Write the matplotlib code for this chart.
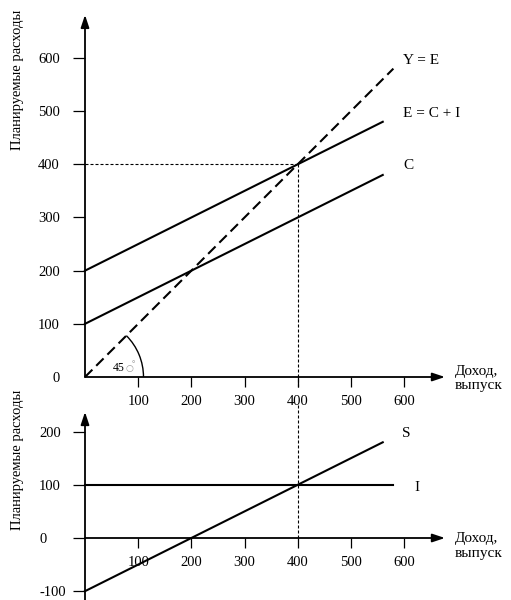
import matplotlib
matplotlib.use("Agg")
import matplotlib.pyplot as plt
from matplotlib.patches import Arc

plt.rcParams["font.family"] = ["Liberation Serif", "DejaVu Sans"]

# ---------------- data ----------------
income = [0, 560]                 # Y (income, output) range for C, E, S
consumption = [100, 380]          # C = 100 + 0.5Y
expenditure = [200, 480]          # E = C + I = 200 + 0.5Y
ye_x = [0, 580]                   # Y = E (45-degree line)
ye_y = [0, 580]
saving = [-100, 180]              # S = -100 + 0.5Y
invest_x = [0, 580]
investment = [100, 100]           # I = 100
eq_income = 400
eq_expenditure = 400

top_xticks = [100, 200, 300, 400, 500, 600]
top_yticks = [0, 100, 200, 300, 400, 500, 600]
bot_xticks = [100, 200, 300, 400, 500, 600]
bot_yticks = [-100, 0, 100, 200]

ylabel_text = "Планируемые расходы"
xlabel_text = "Доход,\nвыпуск"

# ---------------- layout helpers ----------------
W, H, DPI = 511, 600, 100
S = 0.5317          # pixels per data unit
X0 = 85             # pixel x of data x=0
fig = plt.figure(figsize=(W / DPI, H / DPI), dpi=DPI)


def make_ax(xlim, ylim, y0px):
    left = X0 + xlim[0] * S
    right = X0 + xlim[1] * S
    top = y0px - ylim[1] * S
    bottom = y0px - ylim[0] * S
    ax = fig.add_axes([left / W, 1 - bottom / H, (right - left) / W, (bottom - top) / H])
    ax.set_xlim(xlim)
    ax.set_ylim(ylim)
    ax.patch.set_alpha(0)
    for sp in ax.spines.values():
        sp.set_visible(False)
    return ax


def axis_arrows(ax, xlim, ylim):
    ap = dict(arrowstyle="-|>,head_length=0.75,head_width=0.25", color="black",
              lw=1.3, shrinkA=0, shrinkB=0, mutation_scale=10)
    ax.annotate("", xy=(xlim[1], 0), xytext=(0, 0), arrowprops=ap, annotation_clip=False)
    ax.annotate("", xy=(0, ylim[1]), xytext=(0, ylim[0]), arrowprops=ap, annotation_clip=False)


TICK_FS = 10.5
LBL_FS = 11

# ---------------- top panel ----------------
txl, tyl = (0, 677), (0, 681)
ax1 = make_ax(txl, tyl, 377)
ax1.spines["bottom"].set_position(("data", 0))
ax1.spines["left"].set_position(("data", 0))
axis_arrows(ax1, txl, tyl)

ax1.plot(ye_x, ye_y, color="black", lw=1.5, dashes=(5, 2.6), clip_on=False)
ax1.plot(income, expenditure, color="black", lw=1.5, clip_on=False)
ax1.plot(income, consumption, color="black", lw=1.5, clip_on=False)
ax1.plot([0, eq_income], [eq_expenditure, eq_expenditure], color="black", lw=0.8,
         dashes=(2.7, 1.8), clip_on=False)
ax1.plot([eq_income, eq_income], [eq_expenditure, -19], color="black", lw=0.8,
         dashes=(2.7, 1.8), clip_on=False)

ax1.add_patch(Arc((0, 0), 220, 220, theta1=0, theta2=45, color="black", lw=1.0))
ax1.text(52, 17, "45", fontsize=8.5, ha="left", va="center")
ax1.text(76, 16, "○", fontsize=6.5, ha="left", va="center", color="#999999",
         family=["DejaVu Sans"])
ax1.text(88, 24, "°", fontsize=6, ha="left", va="center", color="#666666")

ax1.set_xticks(top_xticks)
ax1.set_xticklabels([str(v) for v in top_xticks], fontsize=TICK_FS)
ax1.set_yticks(top_yticks)
ax1.set_yticklabels([str(v) for v in top_yticks], fontsize=TICK_FS)
ax1.tick_params(axis="x", direction="out", length=7.2, width=0.9, pad=5.5)
ax1.tick_params(axis="y", direction="out", length=8.6, width=0.9, pad=9.4)
ax1.yaxis.get_major_ticks()[0].tick1line.set_visible(False)

ax1.text(598, 596, "Y = E", fontsize=LBL_FS, ha="left", va="center")
ax1.text(598, 496, "E = C + I", fontsize=LBL_FS, ha="left", va="center")
ax1.text(598, 397, "C", fontsize=LBL_FS, ha="left", va="center")

# ---------------- bottom panel ----------------
bxl, byl = (0, 677), (-117, 237)
ax2 = make_ax(bxl, byl, 538)
ax2.spines["bottom"].set_position(("data", 0))
ax2.spines["left"].set_position(("data", 0))
axis_arrows(ax2, bxl, byl)

ax2.plot(invest_x, investment, color="black", lw=1.5, clip_on=False)
ax2.plot(income, saving, color="black", lw=1.5, clip_on=False)
ax2.plot([eq_income, eq_income], [250, 0], color="black", lw=0.8,
         dashes=(2.7, 1.8), clip_on=False)

ax2.set_xticks(bot_xticks)
ax2.set_xticklabels([str(v) for v in bot_xticks], fontsize=TICK_FS)
ax2.set_yticks(bot_yticks)
ax2.set_yticklabels([str(v) for v in bot_yticks], fontsize=TICK_FS)
ax2.tick_params(axis="x", direction="out", length=7.2, width=0.9, pad=6)
ax2.tick_params(axis="y", direction="out", length=8.6, width=0.9, pad=24.5)
for lab in ax2.get_yticklabels():
    lab.set_horizontalalignment("left")

ax2.text(596, 197, "S", fontsize=LBL_FS, ha="left", va="center")
ax2.text(620, 95, "I", fontsize=LBL_FS, ha="left", va="center")

# ---------------- axis titles ----------------
fig.text(18 / W, 1 - 80 / H, ylabel_text, rotation=90, fontsize=10.5, ha="center", va="center")
fig.text(18 / W, 1 - 460 / H, ylabel_text, rotation=90, fontsize=10.5, ha="center", va="center")
fig.text(455 / W, 1 - 378.5 / H, xlabel_text, fontsize=LBL_FS, ha="left", va="center",
         linespacing=1.2)
fig.text(455 / W, 1 - 546 / H, xlabel_text, fontsize=LBL_FS, ha="left", va="center",
         linespacing=1.2)

fig.savefig("out.png", dpi=DPI)
